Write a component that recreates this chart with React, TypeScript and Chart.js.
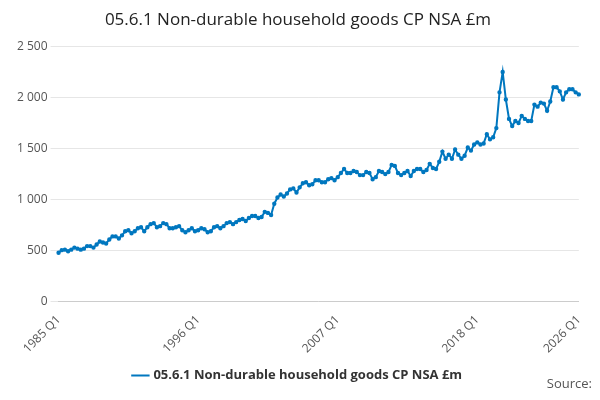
import React, { useEffect, useRef } from "react";
import { Chart, registerables } from "chart.js";
Chart.register(...registerables);

const startYear = 1985;
const values: number[] = [
  480,505,510,495, 510,530,520,510, 520,545,545,530, 560,590,580,570,
  610,640,640,620, 650,690,700,670, 690,720,730,690, 730,760,770,730,
  740,770,760,720, 720,730,740,700, 680,700,720,690, 700,720,710,680,
  690,730,740,720, 740,770,780,760, 780,800,810,790, 820,840,840,820,
  830,880,870,850, 960,1020,1050,1030, 1060,1100,1110,1070, 1120,1160,1170,1140,
  1150,1190,1190,1170, 1170,1200,1210,1190, 1220,1260,1300,1260, 1260,1280,1270,1240,
  1240,1270,1260,1200, 1220,1280,1270,1250, 1270,1340,1330,1260, 1240,1260,1280,1230,
  1280,1300,1300,1270, 1290,1350,1310,1300, 1370,1470,1400,1440, 1400,1490,1440,1400,
  1430,1510,1480,1540, 1560,1540,1550,1640, 1590,1610,1700,2050, 2250,1980,1790,1720,
  1770,1750,1820,1790, 1770,1770,1930,1910, 1950,1940,1870,1960, 2100,2100,2060,1980,
  2050,2080,2080,2050, 2030,
];
const labels: string[] = values.map((_, i) => `${startYear + Math.floor(i / 4)} Q${(i % 4) + 1}`);
const shownTicks: string[] = ["1985 Q1", "1996 Q1", "2007 Q1", "2018 Q1", "2026 Q1"];
const seriesName = "05.6.1 Non-durable household goods CP NSA £m";
const color = "#0077bf";

export default function App() {
  const ref = useRef<HTMLCanvasElement>(null);
  useEffect(() => {
    const chart = new Chart(ref.current!, {
      type: "line",
      data: {
        labels,
        datasets: [{
          label: seriesName, data: values, borderColor: color, backgroundColor: color,
          borderWidth: 2, pointRadius: 1.2, pointHoverRadius: 2, tension: 0,
        }],
      },
      options: {
        animation: false, responsive: false,
        layout: { padding: { left: 6, right: 10, top: 0, bottom: 0 } },
        plugins: {
          title: { display: true, text: seriesName, color: "#222", font: { family: "Open Sans", size: 17, weight: 500 }, padding: { top: 2, bottom: 16 } },
          legend: {
            position: "bottom",
            labels: { usePointStyle: true, pointStyle: "line", color: "#333", font: { family: "Open Sans", size: 13, weight: "bold" }, boxWidth: 20 },
          },
        },
        scales: {
          x: {
            grid: { display: false },
            border: { color: "#ccc" },
            ticks: {
              autoSkip: false, maxRotation: 45, minRotation: 45, color: "#555",
              font: { family: "Open Sans", size: 12 },
              callback: (v: any) => labels[v],
            },
            afterBuildTicks: (scale: any) => {
              scale.ticks = shownTicks.map((t) => ({ value: labels.indexOf(t) }));
            },
          },
          y: {
            min: 0, max: 2500,
            grid: { color: "#e6e6e6" },
            border: { display: false },
            ticks: {
              stepSize: 500, color: "#555", font: { family: "Open Sans", size: 12 },
              callback: (v: any) => String(v).replace(/\B(?=(\d{3})+(?!\d))/g, " "),
            },
          },
        },
      },
    });
    return () => chart.destroy();
  }, []);
  return (
    <div style={{ position: "relative", width: 584, height: 384 }}>
      <canvas ref={ref} width={584} height={384} />
      <div style={{ position: "absolute", right: 0, bottom: 0, fontFamily: "Open Sans", fontSize: 13, color: "#555", whiteSpace: "nowrap" }}>Source:</div>
    </div>
  );
}
